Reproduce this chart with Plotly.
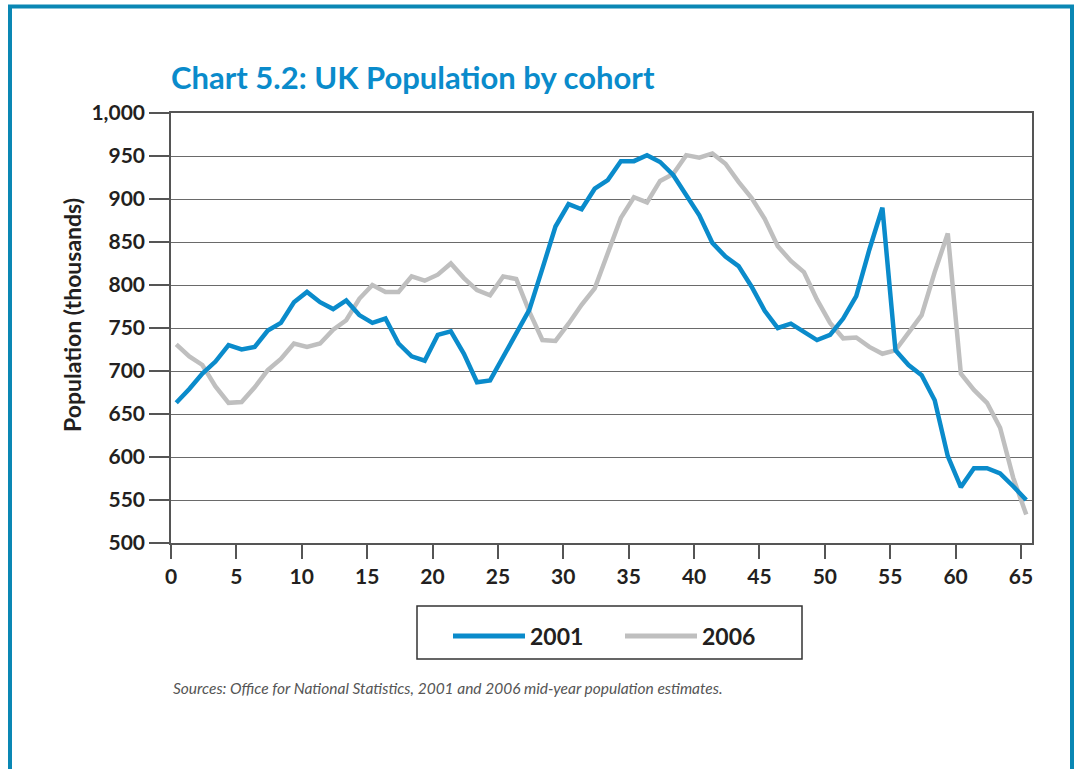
import plotly.graph_objects as go

# UK population by single year of age (thousands)
ages = list(range(0, 66))
pop_2001 = [663, 679, 697, 711, 730, 725, 728, 747, 756, 780,
            792, 780, 772, 782, 765, 756, 761, 732, 717, 712,
            742, 746, 720, 687, 689, 717, 744, 771, 819, 868,
            894, 888, 912, 922, 944, 944, 951, 943, 928, 904,
            881, 849, 833, 822, 798, 770, 750, 755, 746, 736,
            742, 761, 787, 841, 890, 724, 707, 695, 666, 601,
            565, 587, 587, 581, 566, 550]
pop_2006 = [731, 717, 707, 682, 663, 664, 681, 701, 714, 732,
            728, 732, 748, 759, 784, 800, 792, 792, 810, 805,
            812, 825, 808, 794, 788, 810, 807, 769, 736, 735,
            755, 777, 796, 837, 878, 902, 896, 921, 929, 951,
            948, 953, 941, 920, 901, 877, 845, 828, 815, 783,
            756, 738, 739, 728, 720, 724, 744, 765, 815, 860,
            697, 678, 663, 634, 576, 533]
series_names = ["2001", "2006"]
x_ticks = list(range(0, 70, 5))

BLUE = "#0a8bcb"
GREY = "#bfbfbf"
FRAME = "#0a87b4"
INK = "#231f20"
FONT = "Lato"

# plot area in pixels (page is 1077x769)
W, H = 1077, 769
PL, PR, PT, PB = 171, 1032, 113, 543


def px_x(px):
    return (px - PL) / (PR - PL)


def px_y(py):
    return (PB - py) / (PB - PT)


fig = go.Figure()

# points sit a little right of the category tick; grey first so blue is on top
x_pos = [a + 0.4 for a in ages]
for name, values, colour in [(series_names[1], pop_2006, GREY), (series_names[0], pop_2001, BLUE)]:
    fig.add_trace(go.Scatter(
        x=x_pos, y=values, mode="lines", name=name,
        line=dict(color=colour, width=4.5), showlegend=False,
    ))

shapes = [
    # outer teal frame
    dict(type="rect", xref="paper", yref="paper",
         x0=px_x(10), x1=px_x(1072), y0=px_y(800), y1=px_y(6.5),
         line=dict(color=FRAME, width=4), layer="above"),
    # legend box
    dict(type="rect", xref="paper", yref="paper",
         x0=px_x(417), x1=px_x(802), y0=px_y(659), y1=px_y(606),
         line=dict(color="#333333", width=1.5)),
    dict(type="line", xref="paper", yref="paper",
         x0=px_x(453), x1=px_x(525), y0=px_y(636), y1=px_y(636),
         line=dict(color=BLUE, width=5)),
    dict(type="line", xref="paper", yref="paper",
         x0=px_x(625), x1=px_x(697), y0=px_y(636), y1=px_y(636),
         line=dict(color=GREY, width=5)),
]

annotations = [
    dict(text="Population (thousands)", textangle=-90, showarrow=False,
         xref="paper", yref="paper", x=px_x(72), y=px_y(315),
         xanchor="center", yanchor="middle",
         font=dict(family=FONT, size=23, color=INK, weight="bold")),
    dict(text=series_names[0], showarrow=False, xref="paper", yref="paper",
         x=px_x(528), y=px_y(636), xanchor="left", yanchor="middle",
         font=dict(family=FONT, size=23, color=INK, weight="bold")),
    dict(text=series_names[1], showarrow=False, xref="paper", yref="paper",
         x=px_x(700), y=px_y(636), xanchor="left", yanchor="middle",
         font=dict(family=FONT, size=23, color=INK, weight="bold")),
    dict(text="<i>Sources: Office for National Statistics, 2001 and 2006 mid-year population estimates.</i>",
         showarrow=False, xref="paper", yref="paper",
         x=px_x(171), y=px_y(688), xanchor="left", yanchor="middle",
         font=dict(family=FONT, size=15.5, color="#555555")),
]

fig.update_layout(
    width=W, height=H,
    margin=dict(l=PL, r=W - PR, t=PT, b=H - PB, pad=0),
    paper_bgcolor="white", plot_bgcolor="white",
    title=dict(text="Chart 5.2: UK Population by cohort",
               xref="paper", x=0, xanchor="left",
               yref="container", y=1 - 78 / H, yanchor="middle",
               font=dict(family=FONT, size=31, color=BLUE, weight="bold")),
    shapes=shapes,
    annotations=annotations,
    font=dict(family=FONT, color=INK),
)

fig.update_xaxes(
    range=[0, 65.84], tickvals=x_ticks, showgrid=False, zeroline=False,
    showline=True, linecolor="#555555", linewidth=1.5, mirror=True,
    ticks="outside", ticklen=14, tickwidth=1.5, tickcolor="#555555",
    tickfont=dict(family=FONT, size=21, color=INK, weight="bold"),
)
fig.update_yaxes(
    range=[500, 1000], dtick=50, tickformat=",d", zeroline=False,
    showgrid=True, gridcolor="#6a6a6a", gridwidth=1.2,
    showline=True, linecolor="#555555", linewidth=1.5, mirror=True,
    ticks="outside", ticklen=20, tickwidth=1.5, tickcolor="#555555",
    tickfont=dict(family=FONT, size=21, color=INK, weight="bold"),
)

# drop the default 8px body margin so the figure sits at the page corner
fig.write_html("out.html", config={"displayModeBar": False},
               post_script="document.body.style.margin='0px';")
